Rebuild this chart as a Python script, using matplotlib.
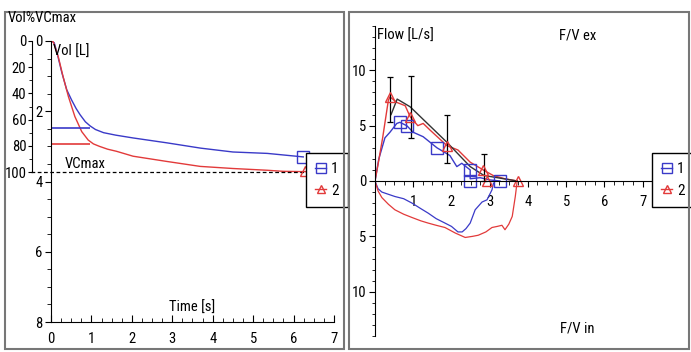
import matplotlib
matplotlib.use("Agg")
import matplotlib.pyplot as plt
from matplotlib import font_manager
from matplotlib.lines import Line2D
from matplotlib.patches import Rectangle
from matplotlib.ticker import MultipleLocator

# a narrow face like the one in the original screenshot, if one is around
have = set(f.name for f in font_manager.fontManager.ttflist)
narrow = [n for n in ['Roboto Condensed', 'PT Sans Narrow', 'Archivo Narrow',
                      'Fira Sans Condensed', 'IBM Plex Sans Condensed',
                      'Liberation Sans Narrow'] if n in have]
plt.rcParams['font.family'] = narrow[:1] + ['DejaVu Sans']

BLUE = '#3a3ac8'
RED = '#e23a3a'

# ---- volume / time (left) ----
t_blue = [0.0, 0.08, 0.15, 0.27, 0.39, 0.51, 0.62, 0.72, 0.85, 0.97, 1.1, 1.3, 1.6, 2.03, 2.87, 3.7, 4.5, 5.35, 6.24]
vol_blue = [0.0, 0.05, 0.34, 0.91, 1.39, 1.68, 1.92, 2.1, 2.3, 2.42, 2.52, 2.61, 2.68, 2.76, 2.9, 3.05, 3.16, 3.2, 3.3]
t_red = [0.0, 0.06, 0.18, 0.3, 0.43, 0.59, 0.76, 0.92, 1.05, 1.2, 1.4, 1.62, 2.03, 2.87, 3.69, 4.5, 5.35, 5.74, 6.29]
vol_red = [0.0, 0.03, 0.45, 1.02, 1.58, 2.15, 2.58, 2.82, 2.93, 3.0, 3.08, 3.14, 3.28, 3.43, 3.57, 3.63, 3.68, 3.71, 3.72]
fev1 = [2.48, 2.94]     # blue, red
fev1_t = 0.97
vcmax = 3.73
end_blue = (6.24, 3.3)
end_red = (6.29, 3.7)

# ---- flow / volume (right) ----
v_blue_ex = [0, 0.1, 0.26, 0.39, 0.57, 0.65, 0.83, 1.0, 1.26, 1.62, 1.96, 2.14, 2.27, 2.49, 2.49, 2.75, 3.0, 3.27]
f_blue_ex = [0, 2.0, 3.9, 4.4, 5.2, 5.3, 5.0, 4.4, 4.0, 3.0, 2.3, 1.3, 1.6, 1.0, 0.2, 0.3, 0.1, 0]
v_red_ex = [0, 0.08, 0.2, 0.35, 0.39, 0.57, 0.79, 0.92, 1.12, 1.26, 1.44, 1.88, 2.17, 2.49, 2.83, 3.09, 3.4, 3.72]
f_red_ex = [0, 1.5, 3.9, 7.3, 7.6, 7.1, 6.8, 5.8, 5.0, 5.2, 4.6, 3.2, 2.8, 1.7, 1.0, 0.5, 0.2, 0]
v_blue_in = [0, 0.08, 0.18, 0.35, 0.52, 0.75, 0.97, 1.2, 1.39, 1.6, 1.83, 2.0, 2.17, 2.28, 2.38, 2.49, 2.62, 2.8, 2.93, 3.06, 3.1]
f_blue_in = [0, 0.7, 1.0, 1.2, 1.4, 1.6, 2.0, 2.5, 2.9, 3.4, 3.8, 4.1, 4.6, 4.6, 4.3, 3.8, 2.6, 1.9, 1.7, 0.8, 0.2]
v_red_in = [0, 0.08, 0.18, 0.35, 0.52, 0.75, 0.97, 1.2, 1.39, 1.6, 1.83, 2.1, 2.36, 2.55, 2.7, 2.9, 3.06, 3.2, 3.32, 3.4, 3.5, 3.59, 3.67, 3.72]
f_red_in = [0, 0.9, 1.5, 2.1, 2.6, 3.0, 3.3, 3.6, 3.8, 4.0, 4.2, 4.7, 5.1, 5.0, 4.9, 4.6, 4.2, 4.1, 4.0, 4.4, 3.9, 3.2, 1.4, 0]
v_pred = [0.42, 0.58, 0.92, 1.88, 2.49, 2.85, 3.72]
f_pred = [6.0, 7.4, 6.7, 3.5, 1.3, 0.5, 0]
sq_v = [0.65, 0.83, 1.62, 2.49, 2.49, 3.27]
sq_f = [5.3, 5.0, 3.0, 1.0, 0, 0]
tri_v = [0.39, 0.92, 1.88, 2.83, 2.93, 3.74]
tri_f = [7.6, 5.8, 3.2, 1.0, 0, 0]
err_v = [0.39, 0.93, 1.88, 2.84]
err_lo = [5.3, 3.9, 1.6, 0.0]
err_hi = [9.4, 9.5, 6.0, 2.4]

W, H = 691, 352
fig = plt.figure(figsize=(W / 100, H / 100), dpi=100)


def box(x0, y0, x1, y1):
    return [x0 / W, 1 - y1 / H, (x1 - x0) / W, (y1 - y0) / H]


# panel frames
for x0, x1 in [(5, 344), (349, 689)]:
    fig.patches.append(Rectangle((x0 / W, 1 - 349 / H), (x1 - x0) / W, 337 / H,
                                 transform=fig.transFigure, fill=False,
                                 edgecolor='#777777', lw=1.5))

fs = 10.5

# ---------- left panel ----------
ax = fig.add_axes(box(51, 41, 334, 322))
ax.set_xlim(0, 7)
ax.set_ylim(8, 0)
for s in ['top', 'right']:
    ax.spines[s].set_visible(False)
ax.set_xticks(range(8))
ax.xaxis.set_minor_locator(MultipleLocator(0.25))
ax.set_yticks([0, 2, 4, 6, 8])
ax.yaxis.set_minor_locator(MultipleLocator(0.5))
ax.tick_params(axis='x', which='both', direction='in', labelsize=fs, pad=7)
ax.tick_params(axis='x', which='major', length=5)
ax.tick_params(axis='x', which='minor', length=3)
ax.tick_params(axis='y', which='both', direction='out', labelsize=fs, pad=2)
ax.tick_params(axis='y', which='major', length=4)
ax.tick_params(axis='y', which='minor', length=3)

ax.plot(t_blue, vol_blue, color=BLUE, lw=1)
ax.plot(t_red, vol_red, color=RED, lw=1)
ax.hlines(fev1[0], 0, fev1_t, color=BLUE, lw=1.2)
ax.hlines(fev1[1], 0, fev1_t, color=RED, lw=1.2)
ax.hlines(vcmax, -0.07, 0.915, transform=ax.get_yaxis_transform(), color='black',
          lw=0.9, linestyles=(0, (3, 2)), clip_on=False)
ax.plot(*end_blue, marker='s', ms=8, mfc='none', mec=BLUE, mew=1, color=BLUE)
ax.plot(*end_red, marker='^', ms=7, mfc='none', mec=RED, mew=1, color=RED)
ax.text(0.33, vcmax - 0.03, 'VCmax', fontsize=fs, va='bottom', ha='left')
ax.text(0.04, 0.3, 'Vol [L]', fontsize=fs, va='center', ha='left')
ax.text(3.5, 7.6, 'Time [s]', fontsize=fs, va='center', ha='center')
fig.text(8 / W, 1 - 18 / H, 'Vol%VCmax', fontsize=fs, va='center', ha='left')

axp = fig.add_axes(box(32, 41, 32.5, 172))
axp.set_ylim(100, 0)
axp.set_yticks([0, 20, 40, 60, 80, 100])
axp.yaxis.set_minor_locator(MultipleLocator(10))
axp.tick_params(axis='y', which='both', direction='out', labelsize=fs, pad=1)
axp.tick_params(axis='y', which='major', length=3)
axp.tick_params(axis='y', which='minor', length=2)
axp.set_xticks([])
for s in ['top', 'right', 'bottom']:
    axp.spines[s].set_visible(False)
axp.patch.set_visible(False)

h1 = Line2D([], [], color=BLUE, lw=1, marker='s', ms=7, mfc='none', mec=BLUE)
h2 = Line2D([], [], color=RED, lw=1, marker='^', ms=6, mfc='none', mec=RED)
leg_kw = dict(loc='upper left', bbox_transform=fig.transFigure, frameon=True,
              fancybox=False, edgecolor='black', framealpha=1, borderaxespad=0,
              handlelength=0.7, handletextpad=0.35, borderpad=0.6,
              labelspacing=0.5, fontsize=11)
lg = ax.legend([h1, h2], ['1', '2'], bbox_to_anchor=(306 / W, 1 - 153 / H), **leg_kw)
lg.get_frame().set_linewidth(1)
lg.set_zorder(10)

# ---------- right panel ----------
bx = fig.add_axes(box(375, 26, 677, 336))
bx.set_xlim(0, 7.9)
bx.set_ylim(-14, 14)
for s in ['top', 'right']:
    bx.spines[s].set_visible(False)
bx.spines['bottom'].set_position(('data', 0))
bx.set_xticks(range(1, 8))
bx.xaxis.set_minor_locator(MultipleLocator(0.25))
bx.set_yticks([-10, -5, 0, 5, 10])
bx.set_yticklabels(['10', '5', '0', '5', '10'])
bx.yaxis.set_minor_locator(MultipleLocator(1))
bx.tick_params(axis='x', which='both', direction='out', labelsize=fs, pad=6)
bx.tick_params(axis='x', which='major', length=4)
bx.tick_params(axis='x', which='minor', length=3)
bx.tick_params(axis='y', which='both', direction='out', labelsize=fs, pad=2)
bx.tick_params(axis='y', which='major', length=4)
bx.tick_params(axis='y', which='minor', length=2)

bx.plot(v_blue_ex, f_blue_ex, color=BLUE, lw=1)
bx.plot(v_red_ex, f_red_ex, color=RED, lw=1)
bx.plot(v_blue_in, [-f for f in f_blue_in], color=BLUE, lw=0.9)
bx.plot(v_red_in, [-f for f in f_red_in], color=RED, lw=0.9)
bx.plot(v_pred, f_pred, color='#333333', lw=1)
mid = [(lo + hi) / 2 for lo, hi in zip(err_lo, err_hi)]
half = [(hi - lo) / 2 for lo, hi in zip(err_lo, err_hi)]
bx.errorbar(err_v, mid, yerr=half, fmt='none', ecolor='black', elinewidth=0.9,
            capsize=2.5, capthick=0.9)
bx.plot(sq_v, sq_f, ls='none', marker='s', ms=8, mfc='none', mec=BLUE, mew=1)
bx.plot(tri_v, tri_f, ls='none', marker='^', ms=7, mfc='none', mec=RED, mew=1)
bx.text(0.05, 13.1, 'Flow [L/s]', fontsize=fs, va='center', ha='left')
bx.text(5.3, 13.1, 'F/V ex', fontsize=fs, va='center', ha='center')
bx.text(5.3, -13.3, 'F/V in', fontsize=fs, va='center', ha='center')

lg2 = bx.legend([h1, h2], ['1', '2'], bbox_to_anchor=(652 / W, 1 - 153 / H), **leg_kw)
lg2.get_frame().set_linewidth(1)
lg2.set_zorder(10)

fig.savefig('out.png', dpi=100, facecolor='white')
